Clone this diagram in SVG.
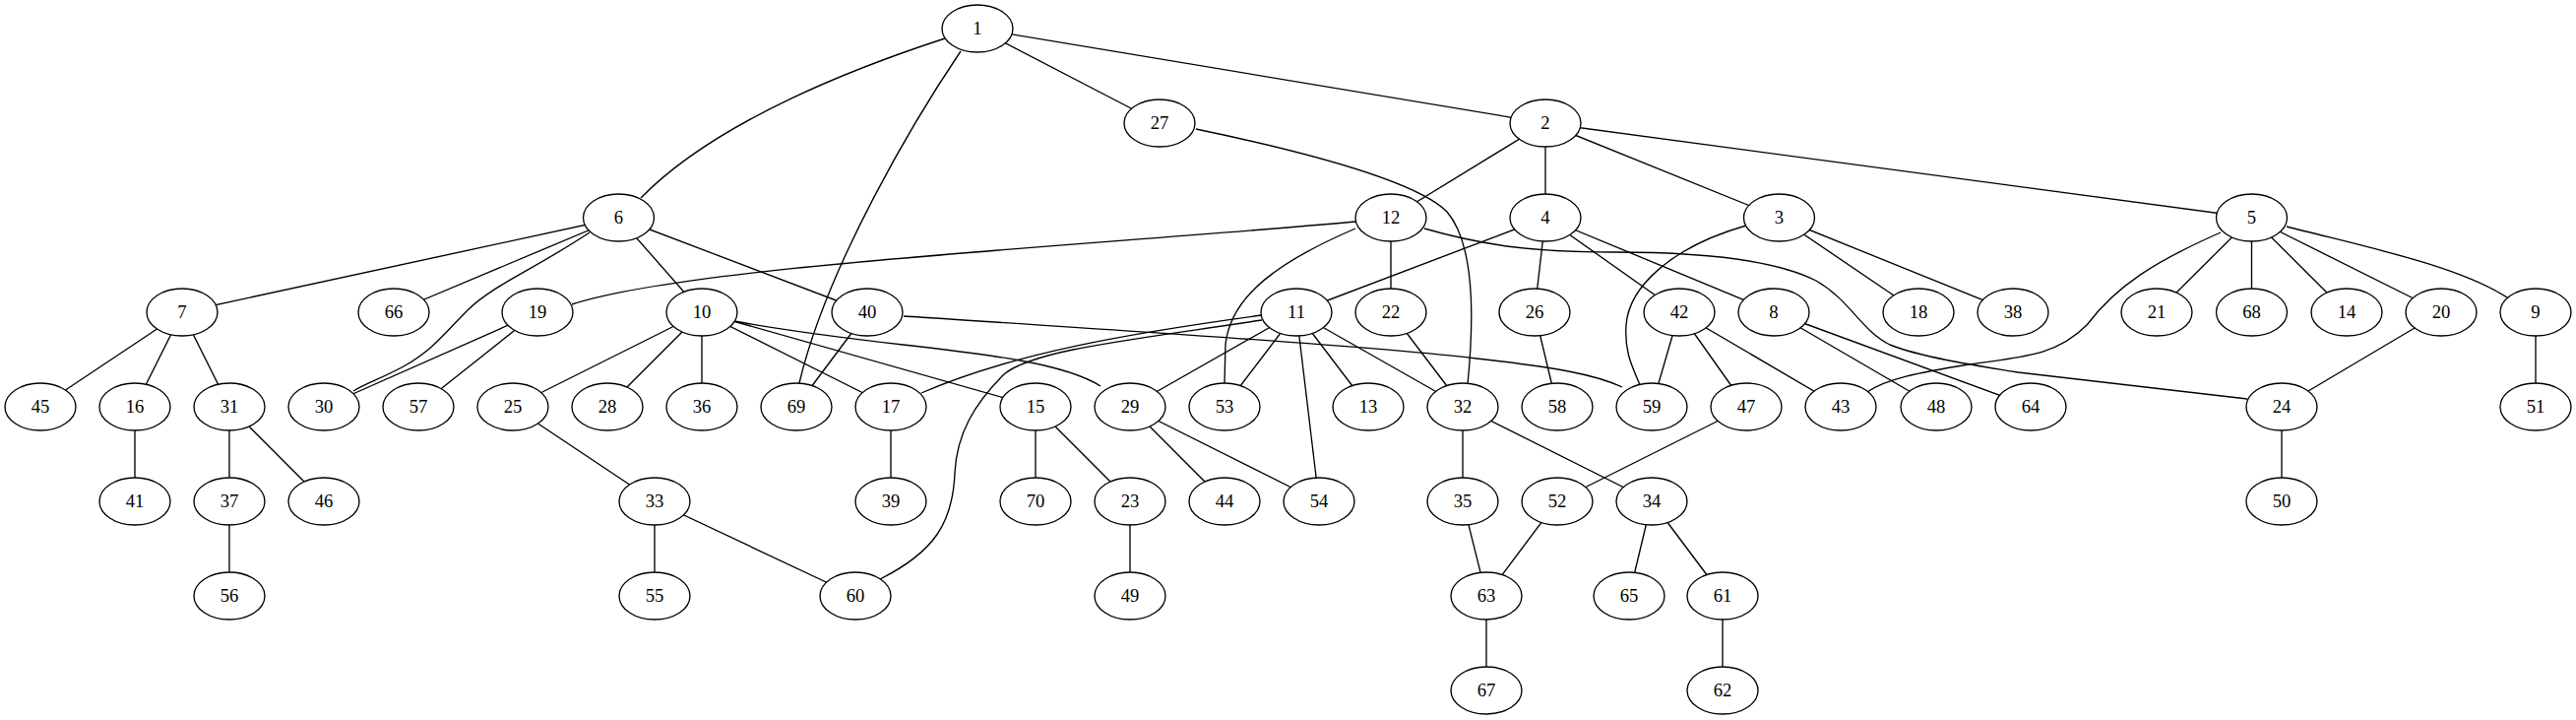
<svg xmlns="http://www.w3.org/2000/svg" width="2617" height="731" viewBox="0 0 2617 731">
<style>
.e path,.e line{fill:none;stroke:#000;stroke-width:1.35}
.n ellipse{fill:#fff;stroke:#000;stroke-width:1.35}
.n text{font-family:"Liberation Serif","Times New Roman",serif;font-size:18.67px;text-anchor:middle;fill:#000}
</style>
<rect width="2617" height="731" fill="#fff"/>
<g id="edges" class="e">
<path d="M960,39 C880,65 730,120 651,201"/>
<path d="M976,52 C930,120 840,270 812,389"/>
<line x1="993" y1="29" x2="1178" y2="125"/>
<line x1="993" y1="29" x2="1570" y2="125"/>
<line x1="1570" y1="125" x2="1413" y2="221"/>
<line x1="1570" y1="125" x2="1570" y2="221"/>
<line x1="1570" y1="125" x2="1807.5" y2="221"/>
<line x1="1570" y1="125" x2="2287.5" y2="221"/>
<path d="M1215,131 C1330,155 1440,185 1470,215 C1500,250 1497,330 1491,390"/>
<line x1="628.5" y1="221" x2="185" y2="317"/>
<line x1="628.5" y1="221" x2="400" y2="317"/>
<path d="M599,236 C540,275 500,290 475,315 C450,340 440,355 410,372 C390,383 370,390 359,397"/>
<line x1="628.5" y1="221" x2="713" y2="317"/>
<line x1="628.5" y1="221" x2="881" y2="317"/>
<path d="M1377,225 C1100,250 700,270 581,309"/>
<path d="M1377,232 C1300,265 1250,300 1245,350 L1244,389"/>
<line x1="1413" y1="221" x2="1413" y2="317"/>
<path d="M1447,232 C1510,250 1560,256 1640,256 C1720,256 1800,262 1845,285 C1880,305 1890,335 1920,350 C1950,362 2000,370 2050,378 L2283,405"/>
<line x1="1570" y1="221" x2="1317" y2="317"/>
<line x1="1570" y1="221" x2="1559" y2="317"/>
<line x1="1570" y1="221" x2="1706" y2="317"/>
<line x1="1570" y1="221" x2="1802" y2="317"/>
<path d="M1774,229 C1700,250 1655,290 1652,330 C1650,360 1660,375 1666,391"/>
<line x1="1807.5" y1="221" x2="1949" y2="317"/>
<line x1="1807.5" y1="221" x2="2045" y2="317"/>
<path d="M2256,236 C2190,265 2150,290 2120,330 C2090,360 2060,362 2000,370 C1950,378 1915,385 1897,398"/>
<line x1="2287.5" y1="221" x2="2191" y2="317"/>
<line x1="2287.5" y1="221" x2="2287.5" y2="317"/>
<line x1="2287.5" y1="221" x2="2384" y2="317"/>
<line x1="2287.5" y1="221" x2="2480" y2="317"/>
<path d="M2323,230 C2400,250 2500,270 2550,304"/>
<line x1="185" y1="317" x2="41" y2="413"/>
<line x1="185" y1="317" x2="137" y2="413"/>
<line x1="185" y1="317" x2="233" y2="413"/>
<line x1="546" y1="317" x2="329" y2="413"/>
<line x1="546" y1="317" x2="425" y2="413"/>
<line x1="713" y1="317" x2="521" y2="413"/>
<line x1="713" y1="317" x2="617" y2="413"/>
<line x1="713" y1="317" x2="713" y2="413"/>
<line x1="713" y1="317" x2="905" y2="413"/>
<line x1="713" y1="317" x2="1052" y2="413"/>
<path d="M746,326 C900,355 1060,355 1118,392"/>
<line x1="881" y1="317" x2="809" y2="413"/>
<path d="M918,321 C1150,336 1400,352 1500,364 C1580,373 1620,380 1648,393"/>
<path d="M1282,320 C1150,338 1030,358 936,399"/>
<path d="M1282,325 C1150,345 1050,355 1020,380 C990,410 972,440 970,480 C968,530 950,560 894,588"/>
<line x1="1317" y1="317" x2="1148" y2="413"/>
<line x1="1317" y1="317" x2="1244" y2="413"/>
<line x1="1317" y1="317" x2="1340" y2="509"/>
<line x1="1317" y1="317" x2="1390" y2="413"/>
<line x1="1317" y1="317" x2="1486" y2="413"/>
<line x1="1413" y1="317" x2="1486" y2="413"/>
<line x1="1559" y1="317" x2="1582" y2="413"/>
<line x1="1706" y1="317" x2="1678" y2="413"/>
<line x1="1706" y1="317" x2="1774" y2="413"/>
<line x1="1706" y1="317" x2="1870" y2="413"/>
<line x1="1802" y1="317" x2="1967" y2="413"/>
<line x1="1802" y1="317" x2="2063" y2="413"/>
<line x1="2480" y1="317" x2="2318" y2="413"/>
<line x1="2576" y1="317" x2="2576" y2="413"/>
<line x1="137" y1="413" x2="137" y2="509"/>
<line x1="233" y1="413" x2="233" y2="509"/>
<line x1="233" y1="413" x2="329" y2="509"/>
<line x1="521" y1="413" x2="665" y2="509"/>
<line x1="905" y1="413" x2="905" y2="509"/>
<line x1="1052" y1="413" x2="1052" y2="509"/>
<line x1="1052" y1="413" x2="1148" y2="509"/>
<line x1="1148" y1="413" x2="1244" y2="509"/>
<line x1="1148" y1="413" x2="1340" y2="509"/>
<line x1="1486" y1="413" x2="1486" y2="509"/>
<line x1="1486" y1="413" x2="1678" y2="509"/>
<line x1="1774" y1="413" x2="1582" y2="509"/>
<line x1="2318" y1="413" x2="2318" y2="509"/>
<line x1="233" y1="509" x2="233" y2="605"/>
<line x1="665" y1="509" x2="665" y2="605"/>
<line x1="665" y1="509" x2="869" y2="605"/>
<line x1="1148" y1="509" x2="1148" y2="605"/>
<line x1="1486" y1="509" x2="1510" y2="605"/>
<line x1="1582" y1="509" x2="1510" y2="605"/>
<line x1="1678" y1="509" x2="1655" y2="605"/>
<line x1="1678" y1="509" x2="1750" y2="605"/>
<line x1="1510" y1="605" x2="1510" y2="701"/>
<line x1="1750" y1="605" x2="1750" y2="701"/>
</g>
<g id="n1" class="n"><ellipse cx="993" cy="29" rx="36" ry="24"/><text x="993" y="35">1</text></g>
<g id="n27" class="n"><ellipse cx="1178" cy="125" rx="36" ry="24"/><text x="1178" y="131">27</text></g>
<g id="n2" class="n"><ellipse cx="1570" cy="125" rx="36" ry="24"/><text x="1570" y="131">2</text></g>
<g id="n6" class="n"><ellipse cx="628.5" cy="221" rx="36" ry="24"/><text x="628.5" y="227">6</text></g>
<g id="n12" class="n"><ellipse cx="1413" cy="221" rx="36" ry="24"/><text x="1413" y="227">12</text></g>
<g id="n4" class="n"><ellipse cx="1570" cy="221" rx="36" ry="24"/><text x="1570" y="227">4</text></g>
<g id="n3" class="n"><ellipse cx="1807.5" cy="221" rx="36" ry="24"/><text x="1807.5" y="227">3</text></g>
<g id="n5" class="n"><ellipse cx="2287.5" cy="221" rx="36" ry="24"/><text x="2287.5" y="227">5</text></g>
<g id="n7" class="n"><ellipse cx="185" cy="317" rx="36" ry="24"/><text x="185" y="323">7</text></g>
<g id="n66" class="n"><ellipse cx="400" cy="317" rx="36" ry="24"/><text x="400" y="323">66</text></g>
<g id="n19" class="n"><ellipse cx="546" cy="317" rx="36" ry="24"/><text x="546" y="323">19</text></g>
<g id="n10" class="n"><ellipse cx="713" cy="317" rx="36" ry="24"/><text x="713" y="323">10</text></g>
<g id="n40" class="n"><ellipse cx="881" cy="317" rx="36" ry="24"/><text x="881" y="323">40</text></g>
<g id="n11" class="n"><ellipse cx="1317" cy="317" rx="36" ry="24"/><text x="1317" y="323">11</text></g>
<g id="n22" class="n"><ellipse cx="1413" cy="317" rx="36" ry="24"/><text x="1413" y="323">22</text></g>
<g id="n26" class="n"><ellipse cx="1559" cy="317" rx="36" ry="24"/><text x="1559" y="323">26</text></g>
<g id="n42" class="n"><ellipse cx="1706" cy="317" rx="36" ry="24"/><text x="1706" y="323">42</text></g>
<g id="n8" class="n"><ellipse cx="1802" cy="317" rx="36" ry="24"/><text x="1802" y="323">8</text></g>
<g id="n18" class="n"><ellipse cx="1949" cy="317" rx="36" ry="24"/><text x="1949" y="323">18</text></g>
<g id="n38" class="n"><ellipse cx="2045" cy="317" rx="36" ry="24"/><text x="2045" y="323">38</text></g>
<g id="n21" class="n"><ellipse cx="2191" cy="317" rx="36" ry="24"/><text x="2191" y="323">21</text></g>
<g id="n68" class="n"><ellipse cx="2287.5" cy="317" rx="36" ry="24"/><text x="2287.5" y="323">68</text></g>
<g id="n14" class="n"><ellipse cx="2384" cy="317" rx="36" ry="24"/><text x="2384" y="323">14</text></g>
<g id="n20" class="n"><ellipse cx="2480" cy="317" rx="36" ry="24"/><text x="2480" y="323">20</text></g>
<g id="n9" class="n"><ellipse cx="2576" cy="317" rx="36" ry="24"/><text x="2576" y="323">9</text></g>
<g id="n45" class="n"><ellipse cx="41" cy="413" rx="36" ry="24"/><text x="41" y="419">45</text></g>
<g id="n16" class="n"><ellipse cx="137" cy="413" rx="36" ry="24"/><text x="137" y="419">16</text></g>
<g id="n31" class="n"><ellipse cx="233" cy="413" rx="36" ry="24"/><text x="233" y="419">31</text></g>
<g id="n30" class="n"><ellipse cx="329" cy="413" rx="36" ry="24"/><text x="329" y="419">30</text></g>
<g id="n57" class="n"><ellipse cx="425" cy="413" rx="36" ry="24"/><text x="425" y="419">57</text></g>
<g id="n25" class="n"><ellipse cx="521" cy="413" rx="36" ry="24"/><text x="521" y="419">25</text></g>
<g id="n28" class="n"><ellipse cx="617" cy="413" rx="36" ry="24"/><text x="617" y="419">28</text></g>
<g id="n36" class="n"><ellipse cx="713" cy="413" rx="36" ry="24"/><text x="713" y="419">36</text></g>
<g id="n69" class="n"><ellipse cx="809" cy="413" rx="36" ry="24"/><text x="809" y="419">69</text></g>
<g id="n17" class="n"><ellipse cx="905" cy="413" rx="36" ry="24"/><text x="905" y="419">17</text></g>
<g id="n15" class="n"><ellipse cx="1052" cy="413" rx="36" ry="24"/><text x="1052" y="419">15</text></g>
<g id="n29" class="n"><ellipse cx="1148" cy="413" rx="36" ry="24"/><text x="1148" y="419">29</text></g>
<g id="n53" class="n"><ellipse cx="1244" cy="413" rx="36" ry="24"/><text x="1244" y="419">53</text></g>
<g id="n13" class="n"><ellipse cx="1390" cy="413" rx="36" ry="24"/><text x="1390" y="419">13</text></g>
<g id="n32" class="n"><ellipse cx="1486" cy="413" rx="36" ry="24"/><text x="1486" y="419">32</text></g>
<g id="n58" class="n"><ellipse cx="1582" cy="413" rx="36" ry="24"/><text x="1582" y="419">58</text></g>
<g id="n59" class="n"><ellipse cx="1678" cy="413" rx="36" ry="24"/><text x="1678" y="419">59</text></g>
<g id="n47" class="n"><ellipse cx="1774" cy="413" rx="36" ry="24"/><text x="1774" y="419">47</text></g>
<g id="n43" class="n"><ellipse cx="1870" cy="413" rx="36" ry="24"/><text x="1870" y="419">43</text></g>
<g id="n48" class="n"><ellipse cx="1967" cy="413" rx="36" ry="24"/><text x="1967" y="419">48</text></g>
<g id="n64" class="n"><ellipse cx="2063" cy="413" rx="36" ry="24"/><text x="2063" y="419">64</text></g>
<g id="n24" class="n"><ellipse cx="2318" cy="413" rx="36" ry="24"/><text x="2318" y="419">24</text></g>
<g id="n51" class="n"><ellipse cx="2576" cy="413" rx="36" ry="24"/><text x="2576" y="419">51</text></g>
<g id="n41" class="n"><ellipse cx="137" cy="509" rx="36" ry="24"/><text x="137" y="515">41</text></g>
<g id="n37" class="n"><ellipse cx="233" cy="509" rx="36" ry="24"/><text x="233" y="515">37</text></g>
<g id="n46" class="n"><ellipse cx="329" cy="509" rx="36" ry="24"/><text x="329" y="515">46</text></g>
<g id="n33" class="n"><ellipse cx="665" cy="509" rx="36" ry="24"/><text x="665" y="515">33</text></g>
<g id="n39" class="n"><ellipse cx="905" cy="509" rx="36" ry="24"/><text x="905" y="515">39</text></g>
<g id="n70" class="n"><ellipse cx="1052" cy="509" rx="36" ry="24"/><text x="1052" y="515">70</text></g>
<g id="n23" class="n"><ellipse cx="1148" cy="509" rx="36" ry="24"/><text x="1148" y="515">23</text></g>
<g id="n44" class="n"><ellipse cx="1244" cy="509" rx="36" ry="24"/><text x="1244" y="515">44</text></g>
<g id="n54" class="n"><ellipse cx="1340" cy="509" rx="36" ry="24"/><text x="1340" y="515">54</text></g>
<g id="n35" class="n"><ellipse cx="1486" cy="509" rx="36" ry="24"/><text x="1486" y="515">35</text></g>
<g id="n52" class="n"><ellipse cx="1582" cy="509" rx="36" ry="24"/><text x="1582" y="515">52</text></g>
<g id="n34" class="n"><ellipse cx="1678" cy="509" rx="36" ry="24"/><text x="1678" y="515">34</text></g>
<g id="n50" class="n"><ellipse cx="2318" cy="509" rx="36" ry="24"/><text x="2318" y="515">50</text></g>
<g id="n56" class="n"><ellipse cx="233" cy="605" rx="36" ry="24"/><text x="233" y="611">56</text></g>
<g id="n55" class="n"><ellipse cx="665" cy="605" rx="36" ry="24"/><text x="665" y="611">55</text></g>
<g id="n60" class="n"><ellipse cx="869" cy="605" rx="36" ry="24"/><text x="869" y="611">60</text></g>
<g id="n49" class="n"><ellipse cx="1148" cy="605" rx="36" ry="24"/><text x="1148" y="611">49</text></g>
<g id="n63" class="n"><ellipse cx="1510" cy="605" rx="36" ry="24"/><text x="1510" y="611">63</text></g>
<g id="n65" class="n"><ellipse cx="1655" cy="605" rx="36" ry="24"/><text x="1655" y="611">65</text></g>
<g id="n61" class="n"><ellipse cx="1750" cy="605" rx="36" ry="24"/><text x="1750" y="611">61</text></g>
<g id="n67" class="n"><ellipse cx="1510" cy="701" rx="36" ry="24"/><text x="1510" y="707">67</text></g>
<g id="n62" class="n"><ellipse cx="1750" cy="701" rx="36" ry="24"/><text x="1750" y="707">62</text></g>
</svg>
